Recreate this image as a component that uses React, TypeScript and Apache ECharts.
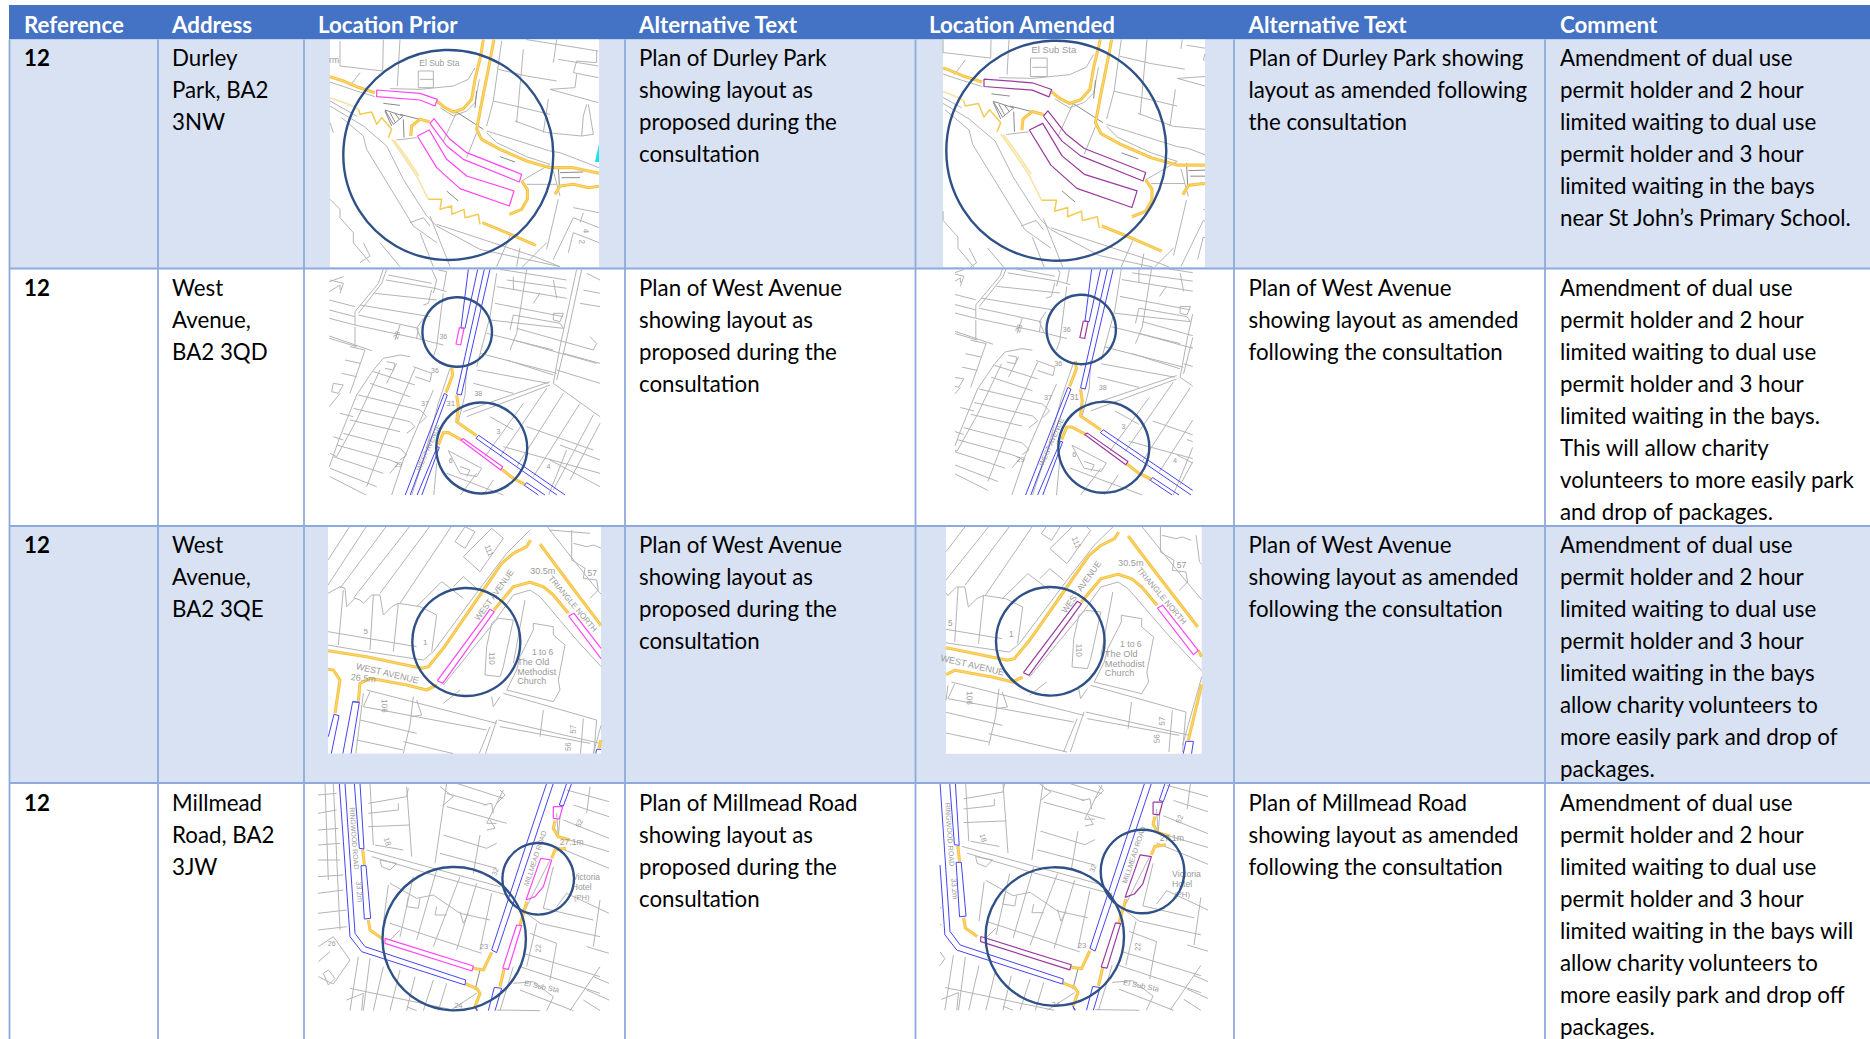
import React, { useEffect, useRef } from "react";
import * as echarts from "echarts";

// ---------- table content ----------
const HEADERS = ["Reference", "Address", "Location Prior", "Alternative Text", "Location Amended", "Alternative Text", "Comment"];
const REFERENCES = ["12", "12", "12", "12"];
const ADDRESSES = [
  ["Durley", "Park, BA2", "3NW"],
  ["West", "Avenue,", "BA2 3QD"],
  ["West", "Avenue,", "BA2 3QE"],
  ["Millmead", "Road, BA2", "3JW"],
];
const ALT_PRIOR = [
  ["Plan of Durley Park", "showing layout as", "proposed during the", "consultation"],
  ["Plan of West Avenue", "showing layout as", "proposed during the", "consultation"],
  ["Plan of West Avenue", "showing layout as", "proposed during the", "consultation"],
  ["Plan of Millmead Road", "showing layout as", "proposed during the", "consultation"],
];
const ALT_AMENDED = [
  ["Plan of Durley Park showing", "layout as amended following", "the consultation"],
  ["Plan of West Avenue", "showing layout as amended", "following the consultation"],
  ["Plan of West Avenue", "showing layout as amended", "following the consultation"],
  ["Plan of Millmead Road", "showing layout as amended", "following the consultation"],
];
const COMMENTS = [
  ["Amendment of dual use", "permit holder and 2 hour", "limited waiting to dual use", "permit holder and 3 hour", "limited waiting in the bays", "near St John\u2019s Primary School."],
  ["Amendment of dual use", "permit holder and 2 hour", "limited waiting to dual use", "permit holder and 3 hour", "limited waiting in the bays.", "This will allow charity", "volunteers to more easily park", "and drop of packages."],
  ["Amendment of dual use", "permit holder and 2 hour", "limited waiting to dual use", "permit holder and 3 hour", "limited waiting in the bays", "allow charity volunteers to", "more easily park and drop of", "packages."],
  ["Amendment of dual use", "permit holder and 2 hour", "limited waiting to dual use", "permit holder and 3 hour", "limited waiting in the bays will", "allow charity volunteers to", "more easily park and drop off", "packages."],
];

// ---------- table layout ----------
const COL_LINES = [9.5, 158, 304, 625, 915.5, 1234, 1545];
const TEXT_X = [24, 172, 318, 639, 929, 1248.5, 1560];
const ROW_LINES = [39.5, 268.5, 526, 783, 1039];
const FIRST_LINE = [57.5, 287.5, 544.5, 802];
const LINE_H = 32;
const FONT = "Lato";
const FONT_SIZE = 22.3;

// ---------- map 1: Durley Park (outlines of the plan image) ----------
const M1_GRAY = [
  [30,195,110,240],[30,210,130,270,200,330,250,430,320,540,350,570,480,640,720,692],[65,245,130,300,140,340,250,520,280,570,350,620],
  [30,490,60,520,60,545,100,590,100,620,150,680],[270,560,310,545,330,570],[330,540,390,692],[350,565,640,660,720,692],
  [570,600,530,692],[600,635,590,692],[300,590,340,692],
  [210,158,300,160,400,150,445,130,465,95],[190,10,188,105,60,90],[240,10,232,150],[295,105,340,105,340,155,295,155,295,105],[300,130,340,130],
  [545,15,520,195,500,270],[535,100,620,120,710,135],[715,70,835,90],[610,40,590,260],[710,10,700,80],[770,75,760,110,835,125],[690,160,835,200],[685,190,670,290],
  [520,195,585,210,690,235],[585,255,680,290,785,300],[500,285,580,310,690,345,720,350,837,395],[770,75,830,80,830,45],[770,115,765,155,690,160],[800,205,790,240,785,300,820,295,805,205],[615,10,835,45],
  [760,515,837,530],[715,490,680,640],[760,545,700,670],[760,545,837,575],[837,620,760,590,745,650],[790,530,780,560],
  [230,312,290,305],[440,365,470,290],[410,228,370,315],[605,435,690,385],[620,445,710,445],[837,520,850,480],[700,405,720,480],
  [60,15,60,90],[120,110,90,150],[40,290,30,260],[860,420,930,430],[870,480,920,450],[600,700,680,620],[860,300,900,340],
  [870,90,940,100],[860,150,940,180],[850,310,940,340],
  [30,138,110,165,165,182],[360,215,400,240,440,225,465,200,478,130],[500,290,530,320,620,362,690,385],[180,620,240,692],[130,620,150,660,120,680],
];
const M1_DARK = [
  [240,235,330,258],[250,250,252,305],[470,165,465,215],[190,202,240,208],[540,362,585,378],[380,465,415,495],[405,225,490,280],[195,225,215,270],
  [720,410,790,408],[195,222,250,240,220,265,195,222],[210,230,225,258],[225,232,238,250],[725,425,780,425],[715,390,718,450],
];
const M1_YELLOW = [
  [30,122,70,135,110,152,165,170],[350,195,375,215,400,228,430,218,455,190,465,130,482,60,490,10],[522,10,505,100,485,200,470,280,485,310,540,340,620,375,690,395,760,395,837,412,900,430],
  [605,435,622,460,622,490,605,520,568,535],[705,475,720,450,760,445,805,455,880,445],[487,560,560,590,648,628],[272,300,275,270,300,250,330,258],
];
const M1_THIN = [
  [115,220,120,235,155,228,170,265,185,245,215,280,205,305],[325,490,365,490,360,520,395,510,395,535,432,520,435,545,475,535,480,565],
];
const M1_PALE = [
  [30,185,85,205,115,220],[215,310,250,360,290,420,325,490],[222,312,257,360,297,420],
];
const M1_BLUE: number[][] = [];
const M1_BAYS = [
  [170,162,300,172,352,190,345,210,300,192,170,182,170,162],
  [330,262,342,248,390,310,440,350,605,415,598,438,430,370,380,330,330,262],
  [292,300,328,282,380,370,440,420,582,465,568,510,420,458,350,395,292,300],
];
const M1_TEXTS: [string, number, number, number, number][] = [
  ["El Sub Sta",358,82,8.5,0],["rm",42,72,8.5,0],["4",797,585,8,-1.57],["2",785,617,8,-1.57],
];

// ---------- map 2: West Avenue, BA2 3QD ----------
const M2_GRAY = [
  [250,28,235,70,165,155,165,195],[260,28,245,70,175,160],[258,60,405,85,440,95],[225,100,410,120],[180,135,390,170],[175,165,355,205],[88,175,165,195,350,235,430,255],
  [88,65,130,50],[88,95,120,75,120,90],[88,228,215,272],[88,235,170,260],[165,200,165,260],[395,28,410,60,400,100],[300,195,285,240],
  [88,120,165,140],[88,150,165,170],[90,60,130,70,120,100],[265,45,395,70],[395,90,385,130,370,135],[370,175,350,205,365,240],[415,30,440,35,430,90],[355,205,350,235],[430,100,410,260,400,290],
  [330,290,300,285,250,295,220,330,170,405,120,530,88,620],[220,335,345,375],[210,370,330,410],[175,405,360,450],[160,445,330,485],[150,480,300,515],[130,520,300,565],[110,555,270,600],[100,590,250,640],[90,625,230,680],[90,650,200,706],
  [240,330,170,480,110,590],[345,325,260,520,200,680],[400,390,310,600,270,720],[290,310,260,370],[450,325,415,430,370,600,330,720],
  [260,305,285,310,280,330,255,325],[340,320,395,340,390,365,345,350],[360,450,380,470,360,490],[330,485,345,500,320,520],[300,565,320,585,300,600],[270,600,295,610,270,640],[120,460,160,470],[100,530,130,540],[90,580,110,590],
  [150,260,195,270,150,400],[135,300,180,310],[125,340,170,350],[100,370,130,375,115,400,95,395,100,370],[88,440,120,400],
  [590,40,570,170,530,320],[680,28,650,220,630,270],[590,80,800,115],[585,130,790,170],[570,180,790,205],[560,220,760,270],[540,280,770,340],[530,330,745,370],[520,370,640,400],[640,165,780,190],[650,205,880,270],[640,240,890,310],[620,300,760,345],
  [640,50,640,90],[760,60,770,115],[640,165,630,210],[780,190,790,205],[720,100,700,130],[870,230,890,250,880,270],[620,60,800,85],
  [830,28,780,260,760,370],[845,28,795,260,770,360],[760,370,900,470],[750,375,500,470],[750,365,490,455],[760,160,790,160,780,185,760,180,760,160],[790,280,900,310],[770,330,900,370],[860,40,900,60],[850,90,900,100],[840,130,900,140],[600,28,800,60],
  [740,385,600,590],[790,400,650,620],[840,430,700,650],[880,465,760,690],[670,430,555,590],[610,560,900,640],[680,500,880,570],[570,470,640,510],[900,490,810,660],[780,555,900,600],[750,600,900,680],
  [445,572,545,625,530,650,480,640,445,572],[410,610,400,720],[500,320,495,405,475,485],[530,640,470,720],[440,640,650,720],[580,660,540,720],[800,570,740,720],[480,620,510,630,500,650],
];
const M2_DARK: number[][] = [];
const M2_YELLOW = [
  [455,322,458,345,438,398],[470,405,475,440,470,485,530,527],[415,555,430,518,445,518,485,540],[605,628,640,655,675,673],
];
const M2_THIN: number[][] = [];
const M2_BLUE = [
  [505,28,483,203,495,205,533,28],[553,28,470,402,484,405,570,28],[433,400,310,720],[442,405,325,720],[433,400,442,405],
  [412,560,345,720],[418,562,360,720],[412,560,418,562],[528,535,536,526,820,722],[528,535,795,722],[673,676,680,668,760,722],[673,676,740,722],
];
const M2_BAYS = [
  [478,203,492,205,482,255,468,252,478,203],[482,540,490,536,608,620,602,630,482,540],
];
const M2_TEXTS: [string, number, number, number, number][] = [
  ["31",452,430,8,0],["WEST AVENUE",385,562,7,1.15],["36",430,228,7,0],["28",290,225,7,1.2],["36",405,330,7,0],["37",375,430,7,0],["38",535,400,7,0],["6",452,600,7,0],["4",745,618,7,0],["3",595,515,7,0],["29",295,613,7,0],
];

// ---------- map 3: West Avenue, BA2 3QE ----------
const M3_GRAY = [
  [84,375,200,395,370,420,400,395,540,205,620,100,690,30],[430,495,580,310,640,225,690,210,720,230,830,360,940,480,935,500,880,700],[740,18,860,170,950,280],
  [84,120,150,18],[84,195,200,18],[120,205,260,18],[160,235,330,18],[240,220,390,18],[300,250,455,18],[350,260,425,185],
  [84,220,120,200,135,205,140,260,165,235,180,240,190,250,215,225,240,225,250,285,275,260,295,250,360,260,410,285,395,395],[84,335,350,380],[130,210,115,375],[220,225,210,390],[295,250,280,395],
  [490,110,575,25,610,55,540,155,490,110],[465,65,495,20,525,35,495,85,465,65],[425,185,490,235],[460,200,490,170,530,205],
  [815,30,815,120,855,145,850,175,890,180,895,210,870,235],[820,70,860,80,880,75,905,85],[750,30,870,40],[920,70,930,150,950,170],
  [700,310,760,320,760,345,795,375,775,480,780,510,760,545,620,510,650,450,660,410,680,370,700,330,700,310],[595,295,640,300,610,440,600,470,555,465,560,380,575,310,595,295],[675,240,640,430],
  [200,510,590,610],[190,560,560,630],[180,600,350,640],[340,530,330,615,310,700],[190,520,165,720],[595,600,900,670],[610,520,890,600],[590,600,550,720],[570,620,530,720],[730,570,720,650],[850,595,840,720],[480,510,430,550],[350,540,365,585,335,590],[310,665,540,720],[600,620,870,670],[890,600,880,720],
  [210,515,190,560],[600,530,580,560,575,530],[170,660,310,690],
];
const M3_DARK: number[][] = [];
const M3_YELLOW = [
  [84,392,200,410,365,445,385,440,430,385,540,225,605,130,640,100,680,80,692,60],[84,448,100,450,120,480,105,580],[175,545,180,490,210,475,320,495,380,510,410,495],
  [582,270,640,200,690,187,730,200,760,225,805,280],[720,72,800,180,925,345],[926,415,945,450],[945,480,897,685],
];
const M3_THIN: number[][] = [];
const M3_BLUE = [
  [102,583,117,587,90,720],[102,583,85,650],[158,545,178,547,150,720],[158,545,125,720],[158,545,178,547],[890,688,912,688,905,735,880,735,890,688],
];
const M3_BAYS = [[412,482,570,268,583,275,428,490,412,482]];
const M3_KEPT = [[806,288,822,280,926,415,912,428,806,288]];
const M3_TEXTS: [string, number, number, number, number][] = [
  ["WEST AVENUE",262,460,9,-0.23],["30.5m",728,152,9,0],["26.5m",190,475,9,-0.1],["TRIANGLE NORTH",818,252,8,-0.87],["WEST AVENUE",582,225,8.5,0.95],
  ["111",567,92,8,-1.2],["5",197,335,8,0],["1",376,368,8,0],["110",575,415,8,-1.57],["1 to 6",728,397,8.5,0],["The Old",700,426,9,0],["Methodist",710,456,9,0],["Church",695,484,9,0],
  ["57",877,160,8.5,0],["57",820,628,8,1.57],["56",805,680,8,1.57],["106",253,558,8,-1.57],
];

// ---------- map 4: Millmead Road ----------
const M4_GRAY = [
  [54,45,110,40],[54,100,110,90],[54,150,115,145],[54,195,120,190],[54,240,120,240],[54,290,130,285],[54,340,130,330],[54,400,140,390],[54,450,140,440],[100,10,120,450],[75,10,85,300],
  [55,500,100,470,150,540,100,612,55,590],[70,580,85,570,105,595,85,615,70,580],[55,545,90,515],
  [210,10,220,195],[205,70,320,50,325,25],[295,70,295,90,205,100],[205,140,330,135],[320,20,335,230],[440,10,405,250],[420,20,460,50,430,75],
  [470,10,610,55],[600,30,615,45,590,70],[550,75,575,70,580,100],[225,195,310,210],[440,40,560,75],[570,120,585,145,560,150],
  [200,210,600,320],[240,240,290,250,270,270,245,260,240,240],[215,230,400,285,640,350],[440,80,620,130],[430,165,560,205,590,190],[420,220,590,265],[540,165,520,280],[610,30,560,130,590,130],
  [270,430,545,520],[270,310,350,355,400,345,480,400,570,420],[410,270,350,480],[480,290,400,500],[530,310,470,510],[575,340,540,510],[265,315,250,430],[325,350,320,380,355,385,360,355],[410,380,405,405,440,405],[300,450,270,480],[480,395,490,430,505,400],[340,290,300,470],
  [175,530,150,692],[210,535,190,692],[250,560,220,692],[300,570,270,692],[400,600,370,692],[440,610,415,692],[150,625,470,692],[140,660,190,640,185,692],[320,680,350,692],[530,640,450,692],[345,590,320,692],
  [775,170,770,100],[790,120,927,175],[820,75,927,110],[800,30,927,65],[770,200,927,265],[870,20,860,100],[750,240,670,400],[760,260,730,385,880,420],[900,360,880,500],[680,400,720,430,900,470],[690,460,770,490,750,600],[670,520,900,590],[640,610,700,605,760,650,740,692],[860,500,927,520],[900,560,810,692],[880,590,927,610],[860,630,927,660],[850,660,900,692],[660,630,820,692],[780,110,775,170,927,215],
  [710,430,680,560],[640,560,600,692],[590,690,720,692],[660,560,900,640],[770,380,800,340,927,400],
];
const M4_DARK = [[540,570,525,630]];
const M4_YELLOW = [
  [188,208,193,255],[205,420,210,450,245,475],[520,565,550,570,575,517],[497,612,530,625,540,640,525,680],[612,568,600,620],[765,122,760,145,775,170,810,180],[755,235,765,210,798,205],[680,365,672,395,660,435],
];
const M4_THIN: number[][] = [];
const M4_BLUE = [
  [118,10,150,470,185,515,495,615,497,600,195,500,165,460,135,10],[163,10,178,205,192,207,180,10],[183,257,198,257,212,415,193,417,183,257],
  [740,10,680,190,575,510,590,518,700,190,760,10],[778,75,790,78,815,10],[778,75,800,10],[583,622,605,625,585,692],[583,622,565,692],[530,692,525,680,533,692],
];
const M4_BAYS = [
  [255,475,520,558,516,573,255,490,255,475],[608,565,650,435,665,437,625,568,608,565],[678,360,722,235,755,240,730,320,705,350,678,360],[760,80,788,80,778,117,760,115,760,80],
];
const M4_TEXTS: [string, number, number, number, number][] = [
  ["RINGWOOD ROAD",163,175,7,-1.5],["33.2m",178,335,7.5,-1.5],["27.1m",815,185,8.5,0],["MILLMEAD ROAD",705,235,7,1.25],["Victoria",858,290,8.5,0],["Hotel",845,320,8.5,0],["(PH)",845,352,7.5,0],
  ["El Sub Sta",725,620,7.5,-0.2],["23",552,500,7.5,0],["22",715,505,7.5,1.57],["24",475,675,7.5,0],["18",262,185,7.5,-1.3],["421",62,145,7,-1.57],["32",585,275,7,1.2],["52",838,130,7.5,1.2],["26",95,490,7,0],
];

const NO_LINES: number[][] = [];
const MAPS = [
  { gray: M1_GRAY, dark: M1_DARK, yellow: M1_YELLOW, thin: M1_THIN, pale: M1_PALE, blue: M1_BLUE, bays: M1_BAYS, kept: NO_LINES, texts: M1_TEXTS },
  { gray: M2_GRAY, dark: M2_DARK, yellow: M2_YELLOW, thin: M2_THIN, pale: NO_LINES, blue: M2_BLUE, bays: M2_BAYS, kept: NO_LINES, texts: M2_TEXTS },
  { gray: M3_GRAY, dark: M3_DARK, yellow: M3_YELLOW, thin: M3_THIN, pale: NO_LINES, blue: M3_BLUE, bays: M3_BAYS, kept: M3_KEPT, texts: M3_TEXTS },
  { gray: M4_GRAY, dark: M4_DARK, yellow: M4_YELLOW, thin: M4_THIN, pale: NO_LINES, blue: M4_BLUE, bays: M4_BAYS, kept: NO_LINES, texts: M4_TEXTS },
];

// placement of each plan image: source = crop offset of the source outlines, box = visible picture
const PRIOR_VIEWS = [
  { ox: 320, oy: 36, sx: 1 / 3, sy: 1 / 3, box: [330, 39.5, 599, 267] },
  { ox: 300, oy: 260, sx: 1 / 3, sy: 1 / 3, box: [329, 269, 600, 495] },
  { ox: 300, oy: 520, sx: 1 / 3, sy: 1 / 3, box: [328, 526.5, 601, 753.5] },
  { ox: 300, oy: 780, sx: 1 / 3, sy: 1 / 3, box: [318, 783, 609, 1011] },
];
const AMENDED_VIEWS = [
  { ox: 930 - 27.6 / 3, oy: 20 - 2 / 3, sx: 1.115 / 3, sy: 1.107 / 3, box: [943, 39.5, 1205, 267] },
  { ox: 930 - 32.5 / 3, oy: 262 - 28 / 3, sx: 1.03 / 3, sy: 1.01 / 3, box: [955, 269, 1192.7, 495] },
  { ox: 930 - 140 / 3, oy: 522 - 30 / 3, sx: 1.02 / 3, sy: 1 / 3, box: [946, 526.5, 1201.7, 753.7] },
  { ox: 930 - 109 / 3, oy: 779 - 12 / 3, sx: 1.024 / 3, sy: 1.02 / 3, box: [940, 783, 1208, 1010.7] },
];
const PRIOR_CIRCLES = [
  [[448.3, 155, 105]],
  [[457.2, 332, 34.8], [481.7, 448, 45.5]],
  [[466.3, 642, 54]],
  [[454.2, 938.7, 71.7], [538.2, 878.8, 35.8]],
];
const AMENDED_CIRCLES = [
  [[1056.3, 150.7, 110]],
  [[1081.2, 329.5, 34.7], [1103.8, 447.3, 45.5]],
  [[1050.3, 641.3, 54.3]],
  [[1054.8, 936.5, 69.2], [1142.5, 871.5, 41.8]],
];

// ---------- colours ----------
const C_HEAD = "#4472C4";
const C_BAND = "#D9E2F3";
const C_LINE = "#8EAADB";
const C_GRAY = "#b4b4b4";
const C_DARK = "#8a8a8a";
const C_YELLOW = "#F6C445";
const C_CORE = "#FFDF8A";
const C_PALE = "#F8E3A6";
const C_BLUE = "#4444F0";
const C_MAGENTA = "#FF45F5";
const C_PURPLE = "#9A3A9E";
const C_CIRCLE = "#2F5188";

type Box = number[];

function clipSegment(x0: number, y0: number, x1: number, y1: number, b: Box) {
  let t0 = 0, t1 = 1;
  const dx = x1 - x0, dy = y1 - y0;
  const ps = [-dx, dx, -dy, dy];
  const qs = [x0 - b[0], b[2] - x0, y0 - b[1], b[3] - y0];
  for (let i = 0; i < 4; i++) {
    if (ps[i] === 0) {
      if (qs[i] < 0) return null;
    } else {
      const t = qs[i] / ps[i];
      if (ps[i] < 0) { if (t > t1) return null; if (t > t0) t0 = t; }
      else { if (t < t0) return null; if (t < t1) t1 = t; }
    }
  }
  return [x0 + t0 * dx, y0 + t0 * dy, x0 + t1 * dx, y0 + t1 * dy];
}

function clipPolyline(pts: number[][], b: Box) {
  const runs: number[][][] = [];
  let cur: number[][] | null = null;
  for (let i = 0; i + 1 < pts.length; i++) {
    const s = clipSegment(pts[i][0], pts[i][1], pts[i + 1][0], pts[i + 1][1], b);
    if (!s) { cur = null; continue; }
    const last = cur && cur[cur.length - 1];
    if (cur && last && Math.abs(last[0] - s[0]) < 1e-6 && Math.abs(last[1] - s[1]) < 1e-6) {
      cur.push([s[2], s[3]]);
    } else {
      cur = [[s[0], s[1]], [s[2], s[3]]];
      runs.push(cur);
    }
  }
  return runs;
}

function drawMap(m: (typeof MAPS)[number], v: (typeof PRIOR_VIEWS)[number], circles: number[][], amended: boolean) {
  const out: any[] = [];
  const b = v.box;
  out.push({ type: "rect", silent: true, shape: { x: b[0], y: b[1], width: b[2] - b[0], height: b[3] - b[1] }, style: { fill: "#fff" } });
  const layer = (lines: number[][], stroke: string, lineWidth: number) => {
    for (const l of lines) {
      const pts: number[][] = [];
      for (let i = 0; i + 1 < l.length; i += 2) pts.push([v.ox + l[i] * v.sx, v.oy + l[i + 1] * v.sy]);
      for (const run of clipPolyline(pts, b)) {
        out.push({ type: "polyline", silent: true, shape: { points: run }, style: { stroke, lineWidth, lineJoin: "round", fill: null } });
      }
    }
  };
  layer(m.gray, C_GRAY, 1);
  layer(m.dark, C_DARK, 1);
  layer(m.pale, C_PALE, 1.6);
  layer(m.thin, "#F3CB55", 1.5);
  layer(m.yellow, C_YELLOW, 3.1);
  layer(m.yellow, C_CORE, 0.7);
  layer(m.blue, C_BLUE, 1);
  layer(m.bays, amended ? C_PURPLE : C_MAGENTA, 1.2);
  layer(m.kept, C_MAGENTA, 1.2);
  for (const t of m.texts) {
    const x = v.ox + t[1] * v.sx, y = v.oy + t[2] * v.sy;
    if (x < b[0] + 4 || x > b[2] - 4 || y < b[1] + 3 || y > b[3] - 3) continue;
    out.push({
      type: "text", silent: true, x, y, rotation: t[4],
      style: { text: t[0], fill: "#9a9a9a", fontSize: t[3] * v.sx * 3, fontFamily: "Liberation Sans", align: "center", verticalAlign: "middle" },
    });
  }
  for (const c of circles) {
    out.push({ type: "circle", silent: true, shape: { cx: c[0], cy: c[1], r: c[2] }, style: { fill: null, stroke: C_CIRCLE, lineWidth: 2.4 } });
  }
  return out;
}

function cellText(lines: string[], x: number, y: number, bold = false, fill = "#000") {
  return lines.map((text, i) => ({
    type: "text", silent: true, x, y: y + i * LINE_H,
    style: { text, fill, fontSize: FONT_SIZE, fontFamily: FONT, fontWeight: bold ? "bold" : "normal", align: "left", verticalAlign: "middle" },
  }));
}

function buildElements() {
  const els: any[] = [];
  els.push({ type: "rect", silent: true, shape: { x: 9, y: 5, width: 1861, height: 34.5 }, style: { fill: C_HEAD } });
  for (let r = 0; r < 4; r++) {
    els.push({
      type: "rect", silent: true,
      shape: { x: 9.5, y: ROW_LINES[r], width: 1860.5, height: ROW_LINES[r + 1] - ROW_LINES[r] },
      style: { fill: r % 2 === 0 ? C_BAND : "#fff" },
    });
  }
  for (let r = 0; r < 4; r++) {
    els.push(...drawMap(MAPS[r], PRIOR_VIEWS[r], PRIOR_CIRCLES[r], false));
    els.push(...drawMap(MAPS[r], AMENDED_VIEWS[r], AMENDED_CIRCLES[r], true));
  }
  // turquoise sliver at the right edge of the first prior plan
  els.push({ type: "polygon", silent: true, shape: { points: [[595, 162], [599, 144], [599, 162]] }, style: { fill: "#19E3E8" } });
  for (const x of COL_LINES) {
    els.push({ type: "line", silent: true, shape: { x1: x, y1: 39.5, x2: x, y2: 1039 }, style: { stroke: C_LINE, lineWidth: 1.8 } });
  }
  for (const y of ROW_LINES.slice(1, 4)) {
    els.push({ type: "line", silent: true, shape: { x1: 9, y1: y, x2: 1870, y2: y }, style: { stroke: C_LINE, lineWidth: 1.8 } });
  }
  HEADERS.forEach((h, i) => {
    els.push(...cellText([h], TEXT_X[i], 24, true, "#fff"));
  });
  for (let r = 0; r < 4; r++) {
    const y = FIRST_LINE[r];
    els.push(...cellText([REFERENCES[r]], TEXT_X[0], y, true));
    els.push(...cellText(ADDRESSES[r], TEXT_X[1], y));
    els.push(...cellText(ALT_PRIOR[r], TEXT_X[3], y));
    els.push(...cellText(ALT_AMENDED[r], TEXT_X[5], y));
    els.push(...cellText(COMMENTS[r], TEXT_X[6], y));
  }
  return els;
}

export default function App() {
  const ref = useRef<HTMLDivElement>(null);
  useEffect(() => {
    if (!ref.current) return;
    const chart = echarts.init(ref.current, undefined, { renderer: "svg" });
    chart.setOption({ animation: false, backgroundColor: "#fff", graphic: { elements: buildElements() } });
    return () => chart.dispose();
  }, []);
  return <div ref={ref} style={{ position: "fixed", left: 0, top: 0, width: 1870, height: 1039 }} />;
}
